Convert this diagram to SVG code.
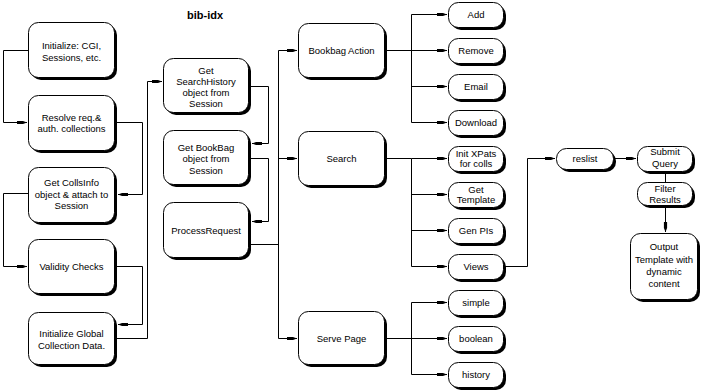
<svg xmlns="http://www.w3.org/2000/svg" width="705" height="391" viewBox="0 0 705 391">
  <style>
    .bg { fill: #ffffff; }
    .sh { fill: #000000; }
    .box { fill: #ffffff; stroke: #000000; stroke-width: 1; }
    .lbl { font-family: "Liberation Sans", Arial, sans-serif; font-size: 9.5px; fill: #000000; text-anchor: middle; }
    .title { font-family: "Liberation Sans", Arial, sans-serif; font-size: 11px; font-weight: bold; fill: #000000; text-anchor: middle; }
    .wire { fill: none; stroke: #000000; stroke-width: 1; }
  </style>
  <defs>
    <marker id="arr" markerUnits="userSpaceOnUse" markerWidth="10" markerHeight="6" viewBox="0 -3 10 6" refX="10" refY="0" orient="auto">
      <path d="M0,-1.6 L6,-1.6 L10,0 L6,1.6 L0,1.6 Z" fill="#000000"/>
    </marker>
  </defs>

  <rect class="bg" x="0" y="0" width="705" height="391"/>
  <text class="title" x="205" y="19">bib-idx</text>

  <!-- connectors -->
  <g id="connectors">
    <path class="wire" d="M28,50.5 H3.5 V122.5 H27" marker-end="url(#arr)"/>
    <path class="wire" d="M114,122.5 H142.5 V194.5 H118" marker-end="url(#arr)"/>
    <path class="wire" d="M28,193.5 H3.5 V266.5 H27" marker-end="url(#arr)"/>
    <path class="wire" d="M114,266.5 H142.5 V324.5 H118" marker-end="url(#arr)"/>
    <path class="wire" d="M114,338.5 H147.5 V81.5 H162" marker-end="url(#arr)"/>

    <path class="wire" d="M248,86.5 H268.5 V143.5 H252" marker-end="url(#arr)"/>
    <path class="wire" d="M248,158.5 H268.5 V221.5 H252" marker-end="url(#arr)"/>
    <path class="wire" d="M248,244.5 H278.5"/>
    <path class="wire" d="M278.5,50.5 V338.5"/>
    <path class="wire" d="M278.5,50.5 H297" marker-end="url(#arr)"/>
    <path class="wire" d="M278.5,158.5 H297" marker-end="url(#arr)"/>
    <path class="wire" d="M278.5,338.5 H297" marker-end="url(#arr)"/>

    <path class="wire" d="M384,50.5 H411.5"/>
    <path class="wire" d="M411.5,14.5 V122.5"/>
    <path class="wire" d="M411.5,14.5 H447" marker-end="url(#arr)"/>
    <path class="wire" d="M411.5,50.5 H447" marker-end="url(#arr)"/>
    <path class="wire" d="M411.5,86.5 H447" marker-end="url(#arr)"/>
    <path class="wire" d="M411.5,122.5 H447" marker-end="url(#arr)"/>

    <path class="wire" d="M384,158.5 H411.5 V266.5"/>
    <path class="wire" d="M411.5,158.5 H447" marker-end="url(#arr)"/>
    <path class="wire" d="M411.5,194.5 H447" marker-end="url(#arr)"/>
    <path class="wire" d="M411.5,230.5 H447" marker-end="url(#arr)"/>
    <path class="wire" d="M411.5,266.5 H447" marker-end="url(#arr)"/>

    <path class="wire" d="M384,338.5 H411.5"/>
    <path class="wire" d="M411.5,302.5 V374.5"/>
    <path class="wire" d="M411.5,302.5 H447" marker-end="url(#arr)"/>
    <path class="wire" d="M411.5,338.5 H447" marker-end="url(#arr)"/>
    <path class="wire" d="M411.5,374.5 H447" marker-end="url(#arr)"/>

    <path class="wire" d="M503,266.5 H527.5 V158.5 H555" marker-end="url(#arr)"/>
    <path class="wire" d="M613,158.5 H636" marker-end="url(#arr)"/>
    <path class="wire" d="M665.5,171 V182"/>
    <path class="wire" d="M665.5,205 V232" marker-end="url(#arr)"/>
  </g>

  <!-- left column -->
  <g id="init-cgi">
    <rect class="sh" x="31" y="25" width="86" height="55" rx="10"/>
    <rect class="box" x="28.5" y="22.5" width="86" height="55" rx="10"/>
    <text class="lbl" x="71.5" y="49">Initialize: CGI,</text>
    <text class="lbl" x="71.5" y="60.5">Sessions, etc.</text>
  </g>
  <g id="resolve">
    <rect class="sh" x="31" y="98" width="86" height="55" rx="10"/>
    <rect class="box" x="28.5" y="95.5" width="86" height="55" rx="10"/>
    <text class="lbl" x="71.5" y="121">Resolve req.&amp;</text>
    <text class="lbl" x="71.5" y="132">auth. collections</text>
  </g>
  <g id="collsinfo">
    <rect class="sh" x="31" y="170" width="86" height="55" rx="10"/>
    <rect class="box" x="28.5" y="167.5" width="86" height="55" rx="10"/>
    <text class="lbl" x="71.5" y="185.5">Get CollsInfo</text>
    <text class="lbl" x="71.5" y="197.5">object &amp; attach to</text>
    <text class="lbl" x="71.5" y="209">Session</text>
  </g>
  <g id="validity">
    <rect class="sh" x="31" y="242" width="86" height="54" rx="10"/>
    <rect class="box" x="28.5" y="239.5" width="86" height="54" rx="10"/>
    <text class="lbl" x="71.5" y="270">Validity Checks</text>
  </g>
  <g id="init-global">
    <rect class="sh" x="31" y="315" width="86" height="52" rx="10"/>
    <rect class="box" x="28.5" y="312.5" width="86" height="52" rx="10"/>
    <text class="lbl" x="71.5" y="337">Initialize Global</text>
    <text class="lbl" x="71.5" y="348.5">Collection Data.</text>
  </g>

  <!-- middle column -->
  <g id="searchhistory">
    <rect class="sh" x="166" y="61" width="85" height="54" rx="10"/>
    <rect class="box" x="163.5" y="58.5" width="85" height="54" rx="10"/>
    <text class="lbl" x="206" y="73.5">Get</text>
    <text class="lbl" x="206" y="84.5">SearchHistory</text>
    <text class="lbl" x="206" y="95.5">object from</text>
    <text class="lbl" x="206" y="106.5">Session</text>
  </g>
  <g id="bookbag">
    <rect class="sh" x="166" y="133" width="85" height="54" rx="10"/>
    <rect class="box" x="163.5" y="130.5" width="85" height="54" rx="10"/>
    <text class="lbl" x="206" y="150.5">Get BookBag</text>
    <text class="lbl" x="206" y="162">object from</text>
    <text class="lbl" x="206" y="173.5">Session</text>
  </g>
  <g id="processrequest">
    <rect class="sh" x="166" y="205" width="85" height="55" rx="10"/>
    <rect class="box" x="163.5" y="202.5" width="85" height="55" rx="10"/>
    <text class="lbl" x="206" y="233.5">ProcessRequest</text>
  </g>

  <!-- action column -->
  <g id="bookbag-action">
    <rect class="sh" x="301" y="26" width="86" height="54" rx="10"/>
    <rect class="box" x="298.5" y="23.5" width="86" height="54" rx="10"/>
    <text class="lbl" x="341.5" y="54">Bookbag Action</text>
  </g>
  <g id="search">
    <rect class="sh" x="301" y="134" width="86" height="54" rx="10"/>
    <rect class="box" x="298.5" y="131.5" width="86" height="54" rx="10"/>
    <text class="lbl" x="341.5" y="161.5">Search</text>
  </g>
  <g id="serve-page">
    <rect class="sh" x="301" y="314" width="86" height="53" rx="10"/>
    <rect class="box" x="298.5" y="311.5" width="86" height="53" rx="10"/>
    <text class="lbl" x="341.5" y="341.5">Serve Page</text>
  </g>

  <!-- sub-steps -->
  <g id="add">
    <rect class="sh" x="451" y="5" width="55" height="25" rx="10"/>
    <rect class="box" x="448.5" y="2.5" width="55" height="25" rx="10"/>
    <text class="lbl" x="476" y="18">Add</text>
  </g>
  <g id="remove">
    <rect class="sh" x="451" y="41" width="55" height="25" rx="10"/>
    <rect class="box" x="448.5" y="38.5" width="55" height="25" rx="10"/>
    <text class="lbl" x="476" y="54">Remove</text>
  </g>
  <g id="email">
    <rect class="sh" x="451" y="77" width="55" height="25" rx="10"/>
    <rect class="box" x="448.5" y="74.5" width="55" height="25" rx="10"/>
    <text class="lbl" x="476" y="90">Email</text>
  </g>
  <g id="download">
    <rect class="sh" x="451" y="113" width="55" height="25" rx="10"/>
    <rect class="box" x="448.5" y="110.5" width="55" height="25" rx="10"/>
    <text class="lbl" x="476" y="126">Download</text>
  </g>
  <g id="init-xpats">
    <rect class="sh" x="451" y="149" width="55" height="25" rx="10"/>
    <rect class="box" x="448.5" y="146.5" width="55" height="25" rx="10"/>
    <text class="lbl" x="476" y="156.5">Init XPats</text>
    <text class="lbl" x="476" y="167">for colls</text>
  </g>
  <g id="get-template">
    <rect class="sh" x="451" y="185" width="55" height="25" rx="10"/>
    <rect class="box" x="448.5" y="182.5" width="55" height="25" rx="10"/>
    <text class="lbl" x="476" y="192.5">Get</text>
    <text class="lbl" x="476" y="203">Template</text>
  </g>
  <g id="gen-pis">
    <rect class="sh" x="451" y="221" width="55" height="25" rx="10"/>
    <rect class="box" x="448.5" y="218.5" width="55" height="25" rx="10"/>
    <text class="lbl" x="476" y="234">Gen PIs</text>
  </g>
  <g id="views">
    <rect class="sh" x="451" y="257" width="55" height="25" rx="10"/>
    <rect class="box" x="448.5" y="254.5" width="55" height="25" rx="10"/>
    <text class="lbl" x="476" y="270">Views</text>
  </g>
  <g id="simple">
    <rect class="sh" x="451" y="293" width="55" height="25" rx="10"/>
    <rect class="box" x="448.5" y="290.5" width="55" height="25" rx="10"/>
    <text class="lbl" x="476" y="306">simple</text>
  </g>
  <g id="boolean">
    <rect class="sh" x="451" y="329" width="55" height="25" rx="10"/>
    <rect class="box" x="448.5" y="326.5" width="55" height="25" rx="10"/>
    <text class="lbl" x="476" y="342">boolean</text>
  </g>
  <g id="history">
    <rect class="sh" x="451" y="365" width="55" height="25" rx="10"/>
    <rect class="box" x="448.5" y="362.5" width="55" height="25" rx="10"/>
    <text class="lbl" x="476" y="378">history</text>
  </g>

  <!-- result pipeline -->
  <g id="reslist">
    <rect class="sh" x="559" y="151" width="57" height="21" rx="10"/>
    <rect class="box" x="556.5" y="148.5" width="57" height="21" rx="10"/>
    <text class="lbl" x="585" y="162">reslist</text>
  </g>
  <g id="submit-query">
    <rect class="sh" x="640" y="149" width="55" height="25" rx="10"/>
    <rect class="box" x="637.5" y="146.5" width="55" height="25" rx="10"/>
    <text class="lbl" x="665" y="155">Submit</text>
    <text class="lbl" x="665" y="166.5">Query</text>
  </g>
  <g id="filter-results">
    <rect class="sh" x="640" y="185" width="55" height="23" rx="10"/>
    <rect class="box" x="637.5" y="182.5" width="55" height="23" rx="10"/>
    <text class="lbl" x="665" y="191.5">Filter</text>
    <text class="lbl" x="665" y="202.5">Results</text>
  </g>
  <g id="output-template">
    <rect class="sh" x="633" y="236" width="67" height="66" rx="10"/>
    <rect class="box" x="630.5" y="233.5" width="67" height="66" rx="10"/>
    <text class="lbl" x="664" y="250">Output</text>
    <text class="lbl" x="664" y="262.5">Template with</text>
    <text class="lbl" x="664" y="274.5">dynamic</text>
    <text class="lbl" x="664" y="286.5">content</text>
  </g>
</svg>
